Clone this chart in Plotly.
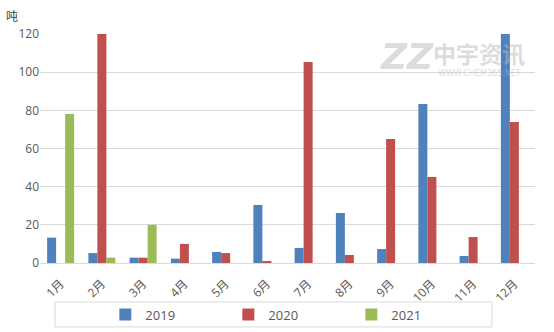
import plotly.graph_objects as go

months = ["1月", "2月", "3月", "4月", "5月", "6月", "7月", "8月", "9月", "10月", "11月", "12月"]
y2019 = [13.3, 5.2, 2.8, 2.3, 5.8, 30.4, 7.9, 26.2, 7.3, 83.3, 3.7, 120]
y2020 = [0, 120, 2.8, 10.0, 5.2, 1.0, 105.3, 4.2, 65.0, 45.1, 13.6, 73.9]
y2021 = [78.1, 2.8, 20.0, None, None, None, None, None, None, None, None, None]

series = [("2019", y2019, "#4F81BD"), ("2020", y2020, "#C0504D"), ("2021", y2021, "#9BBB59")]

FONT = "Open Sans, Noto Sans CJK SC, sans-serif"
TEXT = "#595959"
GRID = "#D9D9D9"

fig = go.Figure()
for name, vals, color in series:
    fig.add_trace(go.Bar(x=months, y=vals, name=name, marker=dict(color=color, line=dict(width=0))))

fig.update_layout(
    width=554, height=332,
    margin=dict(l=40, r=19, t=34, b=69, autoexpand=False),
    paper_bgcolor="white", plot_bgcolor="white",
    barmode="group", bargap=0.345, bargroupgap=0,
    font=dict(family=FONT, size=12, color=TEXT),
    xaxis=dict(tickangle=-45, showgrid=False, showline=True, linecolor=GRID, linewidth=1,
               ticks="", ticklabelstandoff=8, tickfont=dict(size=12, color=TEXT)),
    yaxis=dict(range=[0, 120], dtick=20, showgrid=True, gridcolor=GRID, gridwidth=1,
               zeroline=False, showline=False, ticks="", tickfont=dict(size=12, color=TEXT)),
    legend=dict(orientation="h", x=0.132, y=-0.225, xanchor="left", yanchor="middle",
                entrywidth=78, entrywidthmode="pixels", font=dict(size=13, color=TEXT),
                bgcolor="rgba(0,0,0,0)", itemwidth=30),
    showlegend=True,
)

# legend frame
fig.add_shape(type="rect", xref="paper", yref="paper",
              x0=0.0303, x1=0.913, y0=-0.279, y1=-0.170,
              line=dict(color=GRID, width=1), fillcolor="rgba(0,0,0,0)")

# unit label
fig.add_annotation(text="吨", xref="paper", yref="paper", x=-0.056, y=1.078,
                   xanchor="center", yanchor="middle",
                   showarrow=False, font=dict(size=12, color="#404040"))

# watermark
WM = "rgba(185,185,185,0.5)"
fig.add_annotation(text="<b><i>ZZ</i></b>", xref="paper", yref="paper", x=0.741, y=0.90,
                   xanchor="center", yanchor="middle",
                   showarrow=False, font=dict(size=36, color=WM, family="DejaVu Sans"))
fig.add_annotation(text="<b>中宇资讯</b>", xref="paper", yref="paper", x=0.887, y=0.915,
                   xanchor="center", yanchor="middle",
                   showarrow=False, font=dict(size=23, color=WM, family="Noto Sans CJK SC"))
fig.add_annotation(text="WWW.CHEM365.NET", xref="paper", yref="paper", x=0.887, y=0.828,
                   xanchor="center", yanchor="middle",
                   showarrow=False, font=dict(size=8, color=WM, family="DejaVu Sans"))

fig.write_html("out.html")
